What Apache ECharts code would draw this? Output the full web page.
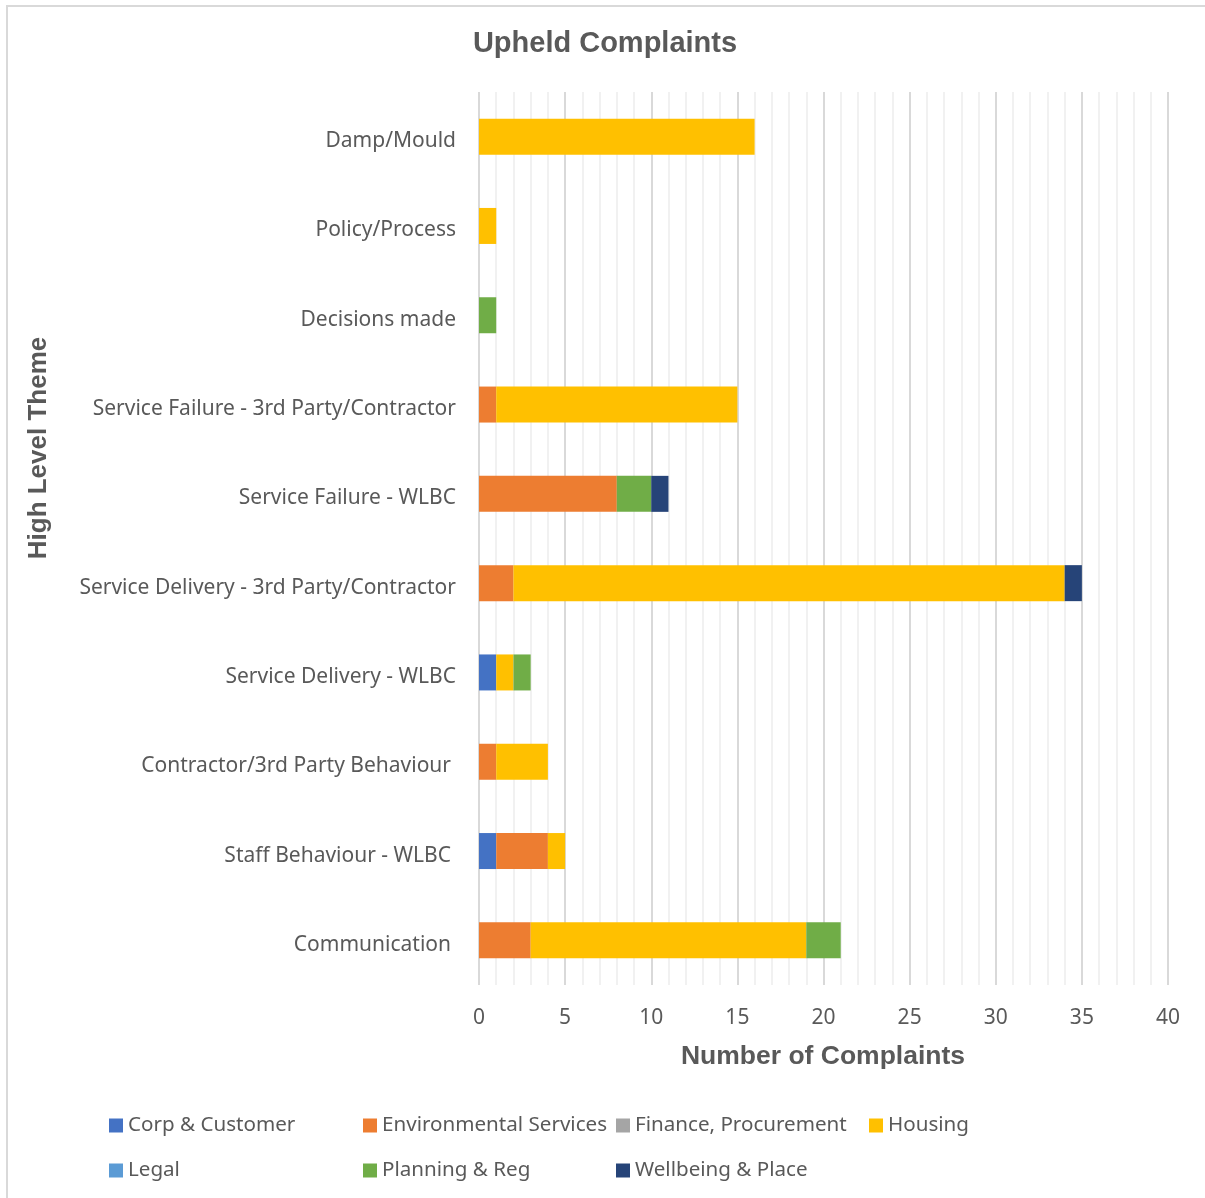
<!DOCTYPE html>
<html>
<head>
<meta charset="utf-8">
<script src="https://cdn.jsdelivr.net/npm/echarts@6/dist/echarts.min.js"></script>
<style>
html,body{margin:0;padding:0;background:#fff;}
#chart{width:1205px;height:1198px;}
</style>
</head>
<body>
<div id="chart"></div>
<script>
const categories = ['Communication','Staff Behaviour - WLBC','Contractor/3rd Party Behaviour','Service Delivery - WLBC','Service Delivery - 3rd Party/Contractor','Service Failure - WLBC','Service Failure - 3rd Party/Contractor','Decisions made','Policy/Process','Damp/Mould'];
const corpCustomer   = [0,1,0,1,0,0,0,0,0,0];
const environmental  = [3,3,1,0,2,8,1,0,0,0];
const finance        = [0,0,0,0,0,0,0,0,0,0];
const housing        = [16,1,3,1,32,0,14,0,1,16];
const legal          = [0,0,0,0,0,0,0,0,0,0];
const planning       = [2,0,0,1,0,2,0,1,0,0];
const wellbeing      = [0,0,0,0,1,1,0,0,0,0];
const xTicks = [0,5,10,15,20,25,30,35,40];

const seriesDefs = [
  {name:'Corp & Customer', data:corpCustomer, color:'#4472C4'},
  {name:'Environmental Services', data:environmental, color:'#ED7D31'},
  {name:'Finance, Procurement', data:finance, color:'#A5A5A5'},
  {name:'Housing', data:housing, color:'#FFC000'},
  {name:'Legal', data:legal, color:'#5B9BD5'},
  {name:'Planning & Reg', data:planning, color:'#70AD47'},
  {name:'Wellbeing & Place', data:wellbeing, color:'#264478'}
];
const legendPos = [[109,1115],[363,1115],[616,1115],[869,1115],[109,1160],[363,1160],[616,1160]];
const shortPad = ['Communication','Staff Behaviour - WLBC','Contractor/3rd Party Behaviour'];

const textColor = '#595959';
const font = 'Noto Sans';

const chart = echarts.init(document.getElementById('chart'), null, {renderer:'canvas'});
const option = {
  animation:false,
  backgroundColor:'#ffffff',
  grid:{left:479, right:37, top:92, bottom:213, containLabel:false},
  xAxis:{
    type:'value', min:xTicks[0], max:xTicks[xTicks.length-1], interval:5,
    axisLine:{show:false}, axisTick:{show:false},
    splitLine:{show:true, lineStyle:{color:'#D9D9D9', width:2}},
    minorTick:{show:false, splitNumber:5},
    minorSplitLine:{show:true, lineStyle:{color:'#EDEDED', width:1.5}},
    axisLabel:{color:textColor, fontSize:21, fontFamily:font, margin:23}
  },
  yAxis:{
    type:'category', data:categories,
    axisLine:{show:false}, axisTick:{show:false},
    axisLabel:{
      color:textColor, fontSize:21, fontFamily:font, margin:23,
      formatter:function(v){ return shortPad.indexOf(v)>=0 ? '{p|'+v+'}' : '{n|'+v+'}'; },
      rich:{
        p:{color:textColor, fontSize:21, fontFamily:font, padding:[9,5,0,0]},
        n:{color:textColor, fontSize:21, fontFamily:font, padding:[9,0,0,0]}
      }
    }
  },
  legend: seriesDefs.map((s,i)=>({
    data:[s.name], left:legendPos[i][0], top:legendPos[i][1], padding:0,
    itemWidth:14, itemHeight:14, icon:'rect', selectedMode:false,
    textStyle:{color:textColor, fontSize:20.6, fontFamily:font}
  })),
  graphic:[
    {type:'rect', z:-10, shape:{x:7,y:6,width:1400,height:1400}, style:{fill:'none', stroke:'#D9D9D9', lineWidth:2}},
    {type:'text', x:605, y:44, style:{text:'Upheld Complaints', font:'bold 29px "Liberation Sans", Arial, sans-serif', fill:textColor, align:'center', verticalAlign:'middle'}},
    {type:'text', x:823, y:1057, style:{text:'Number of Complaints', font:'bold 26.5px "Liberation Sans", Arial, sans-serif', fill:textColor, align:'center', verticalAlign:'middle'}},
    {type:'text', x:39, y:448, rotation:Math.PI/2, style:{text:'High Level Theme', font:'bold 26px "Liberation Sans", Arial, sans-serif', fill:textColor, align:'center', verticalAlign:'middle'}}
  ],
  series: seriesDefs.map(s=>({
    name:s.name, type:'bar', stack:'total', data:s.data, barWidth:36,
    itemStyle:{color:s.color}, emphasis:{disabled:true}
  }))
};
chart.setOption(option);
</script>
</body>
</html>
